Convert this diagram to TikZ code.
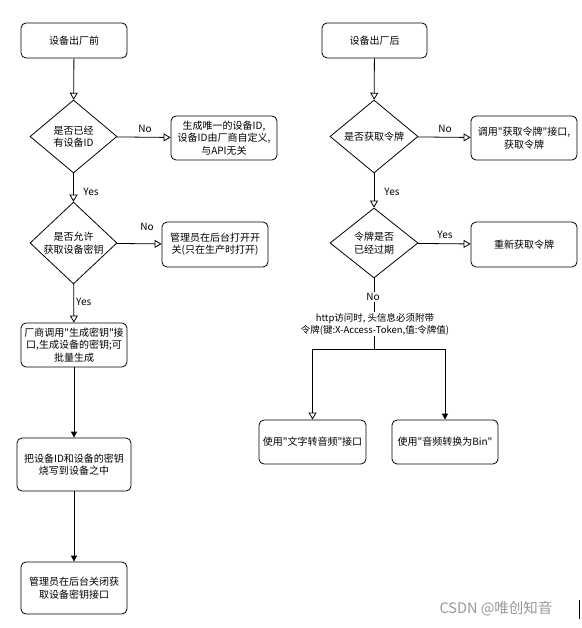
\documentclass[tikz,border=0pt]{standalone}
\usepackage{fontspec}
\newfontfamily\cjk{Noto Sans CJK SC}
\usetikzlibrary{shapes.geometric,arrows.meta}
\begin{document}
\begin{tikzpicture}[x=1pt,y=-1pt,
  every node/.style={font=\cjk\fontsize{10}{12.5}\selectfont},
  box/.style={draw,rounded corners=5pt,line width=0.8pt,align=center,inner sep=1pt},
  dia/.style={draw,diamond,line width=0.8pt,align=center,inner sep=0pt},
  lbl/.style={inner sep=1pt},
  conn/.style={line width=0.8pt},
  oarr/.style={conn,-{Triangle[open,width=8pt,length=7pt]}},
  farr/.style={conn,-{Triangle[width=6pt,length=6pt]}}]
\useasboundingbox (0,0) rectangle (581,628);
\fill[white] (0,0) rectangle (581,628);
% left column
\node[box,minimum width=106pt,minimum height=35pt] (b1) at (74,40.5) {设备出厂前};
\node[dia,minimum width=87pt,minimum height=73pt] (d1) at (73.5,136.5) {是否已经\\有设备ID};
\node[box,minimum width=106pt,minimum height=44pt] (n1) at (224,138) {生成唯一的设备ID,\\设备ID由厂商自定义,\\与API无关};
\node[dia,minimum width=87pt,minimum height=70pt] (d2) at (73.5,243) {是否允许\\获取设备密钥};
\node[box,minimum width=106pt,minimum height=45pt] (n2) at (215,244.5) {管理员在后台打开开\\关(只在生产时打开)};
\node[box,minimum width=106pt,minimum height=44pt] (b3) at (74,345) {厂商调用"生成密钥"接\\口,生成设备的密钥;可\\批量生成};
\node[box,minimum width=114pt,minimum height=53pt] (b4) at (74,464.5) {把设备ID和设备的密钥\\烧写到设备之中};
\node[box,minimum width=106pt,minimum height=52pt] (b5) at (74,588) {管理员在后台关闭获\\取设备密钥接口};
% right column
\node[box,minimum width=105pt,minimum height=35pt] (r1) at (374.5,40.5) {设备出厂后};
\node[dia,minimum width=88pt,minimum height=73pt] (d3) at (374,136.5) {是否获取令牌};
\node[box,minimum width=106pt,minimum height=44pt] (n3) at (524,138) {调用"获取令牌"接口,\\获取令牌};
\node[dia,minimum width=88pt,minimum height=70pt] (d4) at (374,243) {令牌是否\\已经过期};
\node[box,minimum width=106pt,minimum height=45pt] (n4) at (524,244.5) {重新获取令牌};
\node[box,minimum width=107pt,minimum height=44pt] (c6) at (312.5,442) {使用"文字转音频"接口};
\node[box,minimum width=106pt,minimum height=44pt] (c7) at (445,442) {使用"音频转换为Bin"};
\coordinate (split) at (374,349);
% connectors left
\draw[oarr] (b1) -- (d1);
\draw[oarr] (d1) -- (n1);
\draw[oarr] (d1) -- (d2);
\draw[oarr] (d2) -- (n2);
\draw[oarr] (d2) -- (b3);
\draw[farr] (b3) -- (b4);
\draw[farr] (b4) -- (b5);
% connectors right
\draw[oarr] (r1) -- (d3);
\draw[oarr] (d3) -- (n3);
\draw[oarr] (d3) -- (d4);
\draw[oarr] (d4) -- (n4);
\draw[conn] (d4.south) -- (split);
\draw[oarr] (split) -| (c6.north);
\draw[farr] (split) -| (c7.north);
% labels
\node[lbl] (l1) at (145,129) {No};
\node[lbl] (l2) at (91,192) {Yes};
\node[lbl] (l3) at (147,227) {No};
\node[lbl,anchor=west,fill=white] (l4) at (75,302) {Yes};
\node[lbl] (l5) at (445,129) {No};
\node[lbl] (l6) at (392,192) {Yes};
\node[lbl] (l7) at (445,235) {Yes};
\node[lbl,fill=white] (l8) at (373,297) {No};
\node[lbl,fill=white,align=center,font=\cjk\fontsize{9.5}{12}\selectfont] (note) at (375,324) {http访问时, 头信息必须附带\\令牌(键:X-Access-Token,值:令牌值)};
% watermark
\node[lbl,text=black!40,font=\cjk\fontsize{14.5}{16}\selectfont] (wm) at (496,609) {CSDN @唯创知音};
\draw[line width=0.8pt] (579.5,600) -- (579.5,619);
\end{tikzpicture}
\end{document}
